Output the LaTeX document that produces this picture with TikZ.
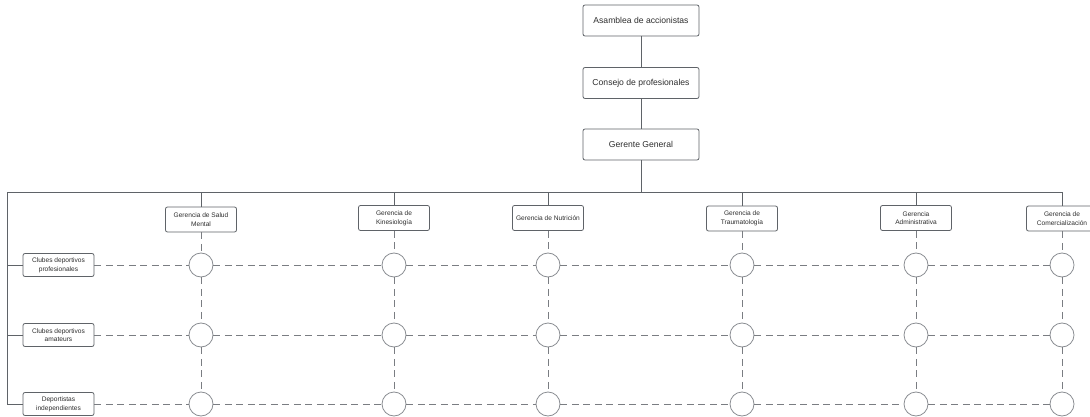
\documentclass[tikz,border=0pt]{standalone}
\usepackage{fontspec}
\setmainfont{Liberation Sans}
\definecolor{edgegray}{HTML}{5F6368}
\definecolor{dashgray}{HTML}{7A7D82}
\definecolor{ringgray}{HTML}{8A8D92}
\definecolor{inkgray}{HTML}{2E2E2E}
\tikzset{
  topbox/.style={draw=edgegray, line width=0.8pt, rounded corners=2pt, fill=white,
    minimum width=116pt, minimum height=31pt, inner sep=1pt,
    font=\fontsize{8.6}{10}\selectfont, text=inkgray},
  mgrbox/.style={draw=edgegray, line width=0.8pt, rounded corners=2pt, fill=white,
    minimum width=71pt, minimum height=25pt, inner sep=1pt, align=center,
    font=\fontsize{6.6}{8.6}\selectfont, text=inkgray},
  rowbox/.style={draw=edgegray, line width=0.8pt, rounded corners=2pt, fill=white,
    minimum width=71pt, minimum height=23pt, inner sep=1pt, align=center,
    font=\fontsize{6.6}{8.6}\selectfont, text=inkgray},
  ring/.style={circle, draw=ringgray, line width=0.8pt, fill=white,
    minimum size=24pt, inner sep=0pt},
  solidlink/.style={draw=edgegray, line width=0.8pt},
  dashlink/.style={draw=dashgray, line width=0.8pt, dash pattern=on 7pt off 4.5pt},
}
\begin{document}
\begin{tikzpicture}[x=1pt, y=-1pt]
  \useasboundingbox (0,0) rectangle (1090,417);
  \clip (0,0) rectangle (1090,417);

  % governing bodies
  \node[topbox] (a1) at (641,20.5)  {Asamblea de accionistas};
  \node[topbox] (a2) at (641,83)    {Consejo de profesionales};
  \node[topbox] (a3) at (641,144.5) {Gerente General};

  % management units
  \node[mgrbox] (g1) at (201,219.5)  {Gerencia de Salud\\Mental};
  \node[mgrbox] (g2) at (394,218)    {Gerencia de\\Kinesiología};
  \node[mgrbox] (g3) at (548,218)    {Gerencia de Nutrición};
  \node[mgrbox] (g4) at (742,218.5)  {Gerencia de\\Traumatología};
  \node[mgrbox] (g5) at (916,218)    {Gerencia\\Administrativa};
  \node[mgrbox] (g6) at (1062,218.5) {Gerencia de\\Comercialización};

  % client groups
  \node[rowbox] (r1) at (58.5,265) {Clubes deportivos\\profesionales};
  \node[rowbox] (r2) at (58.5,335) {Clubes deportivos\\amateurs};
  \node[rowbox] (r3) at (58.5,404) {Deportistas\\independientes};

  % matrix intersections
  \foreach \x [count=\j] in {201,394,548,742,916,1062}
    \foreach \y [count=\i] in {265,335,404}
      \node[ring] (c\i\j) at (\x,\y) {};

  % hierarchy: trunk and bus
  \coordinate (busL) at (7,192);
  \draw[solidlink] (a1) -- (a2);
  \draw[solidlink] (a2) -- (a3);
  \draw[solidlink] (a3.south) -- (a3.south |- busL);
  \draw[solidlink] (r3.west -| busL) -- (busL) -- (g6.north |- busL);
  \foreach \g in {g1,g2,g3,g4,g5,g6}
    \draw[solidlink] (\g.north |- busL) -- (\g.north);
  \foreach \r in {r1,r2,r3}
    \draw[solidlink] (\r.west -| busL) -- (\r.west);

  % dashed matrix links
  \foreach \i in {1,2,3} {
    \draw[dashlink] (r\i) -- (c\i1);
    \foreach \j [evaluate=\j as \k using int(\j+1)] in {1,...,5}
      \draw[dashlink] (c\i\j) -- (c\i\k);
  }
  \foreach \j in {1,...,6} {
    \draw[dashlink] (g\j.south -| c1\j) -- (c1\j);
    \draw[dashlink] (c1\j) -- (c2\j);
    \draw[dashlink] (c2\j) -- (c3\j);
  }
\end{tikzpicture}
\end{document}
